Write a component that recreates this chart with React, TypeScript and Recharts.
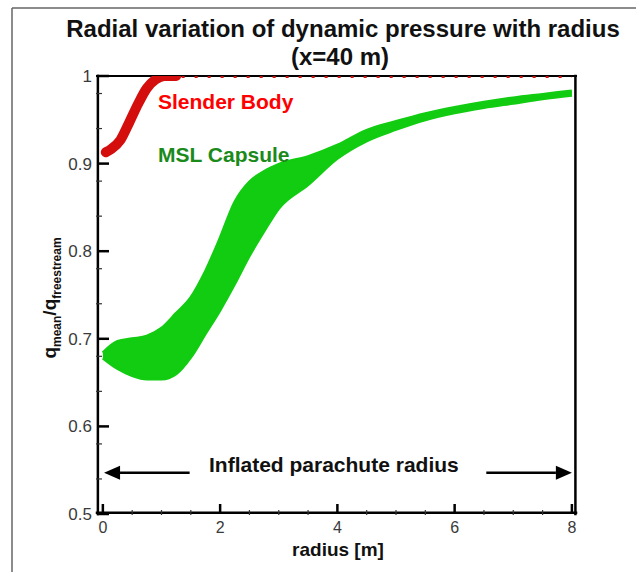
import React from "react";
import {
    ComposedChart,
    XAxis,
    YAxis,
    Area,
    Line,
    ReferenceLine
} from "recharts";

// radius [m] sample points for the MSL capsule band
const capsuleRadius = [0, 0.25, 0.5, 0.75, 1, 1.25, 1.5, 1.75, 2, 2.25, 2.5, 2.75, 3, 3.5, 4, 4.5, 5, 5.5, 6, 6.5, 7, 7.5, 8];
const capsuleLow = [0.678, 0.666, 0.658, 0.654, 0.654, 0.66, 0.679, 0.706, 0.733, 0.763, 0.795, 0.823, 0.849, 0.876, 0.906, 0.926, 0.939, 0.95, 0.958, 0.964, 0.969, 0.974, 0.978];
const capsuleHigh = [0.684, 0.697, 0.7, 0.703, 0.712, 0.729, 0.747, 0.777, 0.815, 0.856, 0.879, 0.891, 0.899, 0.908, 0.921, 0.938, 0.948, 0.957, 0.964, 0.97, 0.975, 0.979, 0.983];

// slender body: steep rise near the axis, then flat at 1
const slenderRadius = [0.05, 0.15, 0.3, 0.45, 0.6, 0.75, 0.9, 1.05, 1.25];
const slenderQ = [0.913, 0.917, 0.927, 0.947, 0.968, 0.986, 0.996, 1.0, 1.0];
const slenderTailRadius = [0.9, 8];
const slenderTailQ = [1, 1];

const xMajorTicks = [0, 2, 4, 6, 8];
const xMinorTicks = [0.5, 1, 1.5, 2.5, 3, 3.5, 4.5, 5, 5.5, 6.5, 7, 7.5];
const yMajorTicks = [0.5, 0.6, 0.7, 0.8, 0.9, 1];
const yMinorTicks = [
    0.52, 0.54, 0.56, 0.58, 0.62, 0.64, 0.66, 0.68, 0.72, 0.74, 0.76, 0.78,
    0.82, 0.84, 0.86, 0.88, 0.92, 0.94, 0.96, 0.98
];

const capsuleData = capsuleRadius.map((r, i) => ({ r, band: [capsuleLow[i], capsuleHigh[i]] }));
const slenderData = slenderRadius.map((r, i) => ({ r, q: slenderQ[i] }));
const slenderTail = slenderTailRadius.map((r, i) => ({ r, q: slenderTailQ[i] }));

const FONT = "'Liberation Sans', Arial, Helvetica, sans-serif";
const X_DOMAIN = [-0.1, 8.07];
const Y_DOMAIN = [0.5, 1];

const YMajorTick = ({ x, y, payload }: any) => (
    <g>
        <line x1={x} x2={x + 12} y1={y} y2={y} stroke="#000" strokeWidth={2.5} />
        <text x={x - 5} y={y + 6} textAnchor="end" fontSize={17} fill="#3a3a3a" fontFamily={FONT}>
            {payload.value}
        </text>
    </g>
);

const YMinorTick = ({ x, y }: any) => (
    <line x1={x} x2={x + 6} y1={y} y2={y} stroke="#333" strokeWidth={1.2} />
);

const XMajorTick = ({ x, y, payload }: any) => (
    <g>
        <line x1={x} x2={x} y1={y} y2={y - 10} stroke="#000" strokeWidth={2.5} />
        <text x={x} y={y + 19} textAnchor="middle" fontSize={16} fill="#3a3a3a" fontFamily={FONT}>
            {payload.value}
        </text>
    </g>
);

const XMinorTick = ({ x, y }: any) => (
    <line x1={x} x2={x} y1={y} y2={y - 5} stroke="#333" strokeWidth={1.2} />
);

// box edge drawn without the plot clip
const boxShape = (width: number) => (props: any) => (
    <line
        x1={props.x1}
        y1={props.y1}
        x2={props.x2}
        y2={props.y2}
        stroke="#000"
        strokeWidth={width}
        strokeLinecap="square"
    />
);

const arrowShape = (props: any) => {
    const { x1, y1, x2, y2 } = props;
    const dir = x2 > x1 ? 1 : -1;
    const head = 16;
    return (
        <g>
            <line x1={x1} y1={y1} x2={x2 - dir * head} y2={y2} stroke="#000" strokeWidth={2.5} />
            <polygon
                points={`${x2},${y2} ${x2 - dir * head},${y2 - 7} ${x2 - dir * head},${y2 + 7}`}
                fill="#000"
            />
        </g>
    );
};

export default function App() {
    return (
        <div style={{ position: "absolute", left: 0, top: 0, width: 636, height: 572, background: "#fff" }}>
            <ComposedChart
                width={636}
                height={572}
                margin={{ top: 76, right: 60, bottom: 56, left: 95 }}
            >
                <XAxis
                    type="number"
                    dataKey="r"
                    domain={X_DOMAIN}
                    ticks={xMajorTicks}
                    allowDataOverflow
                    height={1}
                    tickSize={0}
                    tickMargin={0}
                    tickLine={false}
                    tick={<XMajorTick />}
                    axisLine={false}
                />
                <XAxis
                    xAxisId="minor"
                    type="number"
                    dataKey="r"
                    domain={X_DOMAIN}
                    ticks={xMinorTicks}
                    allowDataOverflow
                    height={1}
                    tickSize={0}
                    tickMargin={0}
                    tickLine={false}
                    tick={<XMinorTick />}
                    axisLine={false}
                />
                <YAxis
                    type="number"
                    domain={Y_DOMAIN}
                    ticks={yMajorTicks}
                    allowDataOverflow
                    width={1}
                    tickSize={0}
                    tickMargin={0}
                    tickLine={false}
                    tick={<YMajorTick />}
                    axisLine={false}
                />
                <YAxis
                    yAxisId="minor"
                    type="number"
                    domain={Y_DOMAIN}
                    ticks={yMinorTicks}
                    allowDataOverflow
                    width={1}
                    tickSize={0}
                    tickMargin={0}
                    tickLine={false}
                    tick={<YMinorTick />}
                    axisLine={false}
                />
                {/* plot box, set just inside the domain edges */}
                <ReferenceLine x={-0.085} shape={boxShape(2.5)} ifOverflow="extendDomain" />
                <ReferenceLine x={8.06} shape={boxShape(2.5)} ifOverflow="extendDomain" />
                <ReferenceLine y={0.5015} shape={boxShape(2.5)} ifOverflow="extendDomain" />
                <ReferenceLine y={Y_DOMAIN[1]} shape={boxShape(2)} ifOverflow="extendDomain" />
                <Area
                    data={capsuleData}
                    dataKey="band"
                    type="monotone"
                    stroke="#11cc11"
                    strokeWidth={3}
                    fill="#11cc11"
                    fillOpacity={1}
                    isAnimationActive={false}
                />
                <Line
                    data={slenderTail}
                    dataKey="q"
                    type="linear"
                    stroke="#cc1111"
                    strokeWidth={4}
                    strokeDasharray="3 10"
                    dot={false}
                    isAnimationActive={false}
                />
                <Line
                    data={slenderData}
                    dataKey="q"
                    type="monotone"
                    stroke="#d40d0d"
                    strokeWidth={10}
                    strokeLinecap="round"
                    dot={false}
                    isAnimationActive={false}
                />
                <ReferenceLine
                    segment={[{ x: 1.48, y: 0.547 }, { x: 0.02, y: 0.547 }]}
                    shape={arrowShape}
                    ifOverflow="visible"
                />
                <ReferenceLine
                    segment={[{ x: 6.54, y: 0.547 }, { x: 8.0, y: 0.547 }]}
                    shape={arrowShape}
                    ifOverflow="visible"
                />
            </ComposedChart>
            <svg
                width={636}
                height={572}
                style={{ position: "absolute", left: 0, top: 0, pointerEvents: "none" }}
                fontFamily={FONT}
            >
                <line x1={12} y1={8} x2={636} y2={8} stroke="#666" strokeWidth={1.5} />
                <line x1={12} y1={8} x2={12} y2={572} stroke="#666" strokeWidth={1.5} />
                <text x={343} y={37} textAnchor="middle" fontSize={24} fontWeight="bold" fill="#111">
                    Radial variation of dynamic pressure with radius
                </text>
                <text x={340} y={65} textAnchor="middle" fontSize={24} fontWeight="bold" fill="#111">
                    (x=40 m)
                </text>
                <text x={158} y={109} fontSize={21} fontWeight="bold" fill="#ff0000">
                    Slender Body
                </text>
                <text x={158} y={162} fontSize={21} fontWeight="bold" fill="#1a8a1a">
                    MSL Capsule
                </text>
                <text x={209} y={472} fontSize={21} fontWeight="bold" fill="#111">
                    Inflated parachute radius
                </text>
                <text x={338} y={556} textAnchor="middle" fontSize={19} fontWeight="bold" fill="#111">
                    radius [m]
                </text>
                <text
                    transform="translate(56, 298) rotate(-90)"
                    textAnchor="middle"
                    fontSize={19}
                    fontWeight="bold"
                    fill="#111"
                >
                    q<tspan fontSize={12} dy={5}>mean</tspan>
                    <tspan dy={-5}>/q</tspan>
                    <tspan fontSize={12} dy={5}>freestream</tspan>
                </text>
            </svg>
        </div>
    );
}
